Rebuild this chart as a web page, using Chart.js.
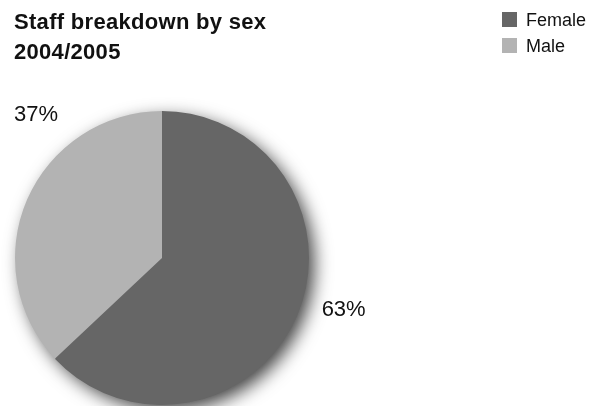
<!DOCTYPE html>
<html><head><meta charset="utf-8">
<script src="https://cdn.jsdelivr.net/npm/chart.js@4.4.1/dist/chart.umd.min.js"></script>
<style>html,body{margin:0;padding:0;background:#fff;} canvas{display:block;}</style>
</head><body>
<canvas id="c" width="597" height="406"></canvas>
<script>
// ---- data ----
const categories = ['Female', 'Male'];
const shares = [63, 37];
const titleLines = ['Staff breakdown by sex', '2004/2005'];

// ---- style ----
const sliceColors = ['#666666', '#b3b3b3'];
const textColor = '#111111';
// where each percentage label sits: fraction along its slice's arc, and radius factor
const labelPlacement = [{t: 0.467, r: 1.285}, {t: 0.69, r: 1.298}];

const shadowPlugin = {
  id: 'pieShadow',
  beforeDatasetsDraw(chart) {
    const arc = chart.getDatasetMeta(0).data[0];
    if (!arc) return;
    const {x, y, outerRadius} = arc.getProps(['x', 'y', 'outerRadius'], true);
    const ctx = chart.ctx;
    ctx.save();
    ctx.shadowColor = 'rgba(0,0,0,0.75)';
    ctx.shadowBlur = 18;
    ctx.shadowOffsetX = 6;
    ctx.shadowOffsetY = 6;
    ctx.beginPath();
    ctx.arc(x, y, outerRadius - 1, 0, Math.PI * 2);
    ctx.fillStyle = sliceColors[0];
    ctx.fill();
    ctx.restore();
  }
};

const pctLabels = {
  id: 'pctLabels',
  afterDatasetsDraw(chart) {
    const ctx = chart.ctx;
    const meta = chart.getDatasetMeta(0);
    ctx.save();
    ctx.font = '22px "Liberation Sans", Arial, sans-serif';
    ctx.fillStyle = textColor;
    ctx.textAlign = 'center';
    ctx.textBaseline = 'middle';
    meta.data.forEach((arc, i) => {
      const p = arc.getProps(['x', 'y', 'startAngle', 'endAngle', 'outerRadius'], true);
      const pl = labelPlacement[i];
      const a = p.startAngle + pl.t * (p.endAngle - p.startAngle);
      const rr = p.outerRadius * pl.r;
      ctx.fillText(shares[i] + '%', p.x + Math.cos(a) * rr, p.y + Math.sin(a) * rr);
    });
    ctx.restore();
  }
};

const titleLegend = {
  id: 'titleLegend',
  afterDraw(chart) {
    const ctx = chart.ctx;
    ctx.save();
    ctx.fillStyle = textColor;
    ctx.textAlign = 'left';
    ctx.textBaseline = 'alphabetic';
    ctx.font = 'bold 22px "Liberation Sans", Arial, sans-serif';
    try { ctx.letterSpacing = '0.3px'; } catch (e) {}
    titleLines.forEach((line, i) => ctx.fillText(line, 14, 29 + i * 29.5));
    try { ctx.letterSpacing = '0px'; } catch (e) {}
    ctx.font = '18px "Liberation Sans", Arial, sans-serif';
    categories.forEach((cat, i) => {
      const y0 = 12 + i * 26;
      ctx.fillStyle = sliceColors[i];
      ctx.fillRect(502, y0, 15, 15);
      ctx.fillStyle = textColor;
      ctx.fillText(cat, 526, y0 + 14);
    });
    ctx.restore();
  }
};

new Chart(document.getElementById('c'), {
  type: 'pie',
  data: {
    labels: categories,
    datasets: [{
      data: shares,
      backgroundColor: sliceColors,
      borderWidth: 0,
      hoverOffset: 0
    }]
  },
  options: {
    responsive: false,
    devicePixelRatio: 1,
    animation: false,
    events: [],
    layout: {padding: {left: 15, top: 111, right: 288, bottom: 1}},
    plugins: {
      legend: {display: false},
      title: {display: false},
      tooltip: {enabled: false}
    }
  },
  plugins: [shadowPlugin, pctLabels, titleLegend]
});
</script>
</body></html>
